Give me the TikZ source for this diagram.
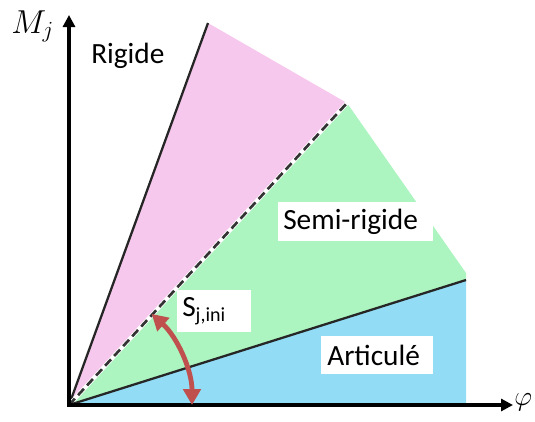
\documentclass[tikz,border=0pt]{standalone}
\usepackage{fontspec}
\setmainfont{Carlito}
\usetikzlibrary{arrows.meta}
\definecolor{pinkz}{RGB}{247,200,237}
\definecolor{greenz}{RGB}{172,244,192}
\definecolor{bluez}{RGB}{146,220,246}
\definecolor{redz}{RGB}{192,80,77}
\begin{document}
\begin{tikzpicture}[x=0.75pt,y=-0.75pt,
  lbl/.style={font=\fontsize{22}{26}\selectfont},
  boxlbl/.style={lbl, fill=white, align=left, inner ysep=0pt},
  axis/.style={line width=3pt, -{Triangle[length=9pt,width=9pt]}},
  bound/.style={line width=1.7pt, draw=black!85},
  redarr/.style={line width=3.6pt, draw=redz, {Triangle[length=12pt,width=13pt]}-{Triangle[length=12pt,width=13pt]}}]
\useasboundingbox (0,0) rectangle (535,421);
\coordinate (O) at (69,405);
\coordinate (P1) at (208,23);
\coordinate (P2) at (347,103);
\coordinate (P3) at (466,273);
\coordinate (P4) at (466,280);
\coordinate (P5) at (466,405);
\coordinate (yend) at (69,15);
\coordinate (xend) at (513,405);
% regions
\fill[pinkz] (O) -- (P1) -- (P2) -- cycle;
\fill[greenz] (O) -- (P2) -- (P3) -- (P4) -- cycle;
\fill[bluez] (O) -- (P4) -- (P5) -- cycle;
% boundaries
\draw[bound] (O) -- (P1);
\draw[white, line width=3.2pt] (O) -- (P2);
\draw[line width=2pt, draw=black!80, dash pattern=on 6.5pt off 3.5pt] (O) -- (P2);
\draw[bound] (O) -- (P4);
% axes
\draw[axis] (O) -- (yend);
\draw[axis] ([xshift=-1.5pt]O) -- (xend);
\node[anchor=base west, inner sep=0pt, font=\fontsize{25}{30}\selectfont] (mj) at (11,33) {$M_j$};
\node[anchor=west, inner sep=0pt, font=\fontsize{22}{26}\selectfont] (phi) at (514,402) {$\varphi$};
% labels
\node[lbl, anchor=base west, inner sep=0pt] (rig) at (91,63) {Rigide};
\node[boxlbl, anchor=north west, inner xsep=3.75pt, text width=108.75pt, minimum height=29.25pt] (semi) at (278,202) {Semi-rigide};
\node[boxlbl, anchor=north west, inner xsep=4.5pt, text width=75pt, minimum height=28.5pt] (art) at (321,336) {Articulé};
\node[boxlbl, anchor=north west, inner xsep=3.75pt, text width=48pt, minimum height=31.5pt] (sj) at (177,290) {S\raisebox{-0.35ex}{\fontsize{15}{18}\selectfont j,ini}};
% red arrow
\draw[redarr] ([shift={(-47.8:123)}]O) arc[start angle=-47.8, end angle=0, radius=123];
\end{tikzpicture}
\end{document}
